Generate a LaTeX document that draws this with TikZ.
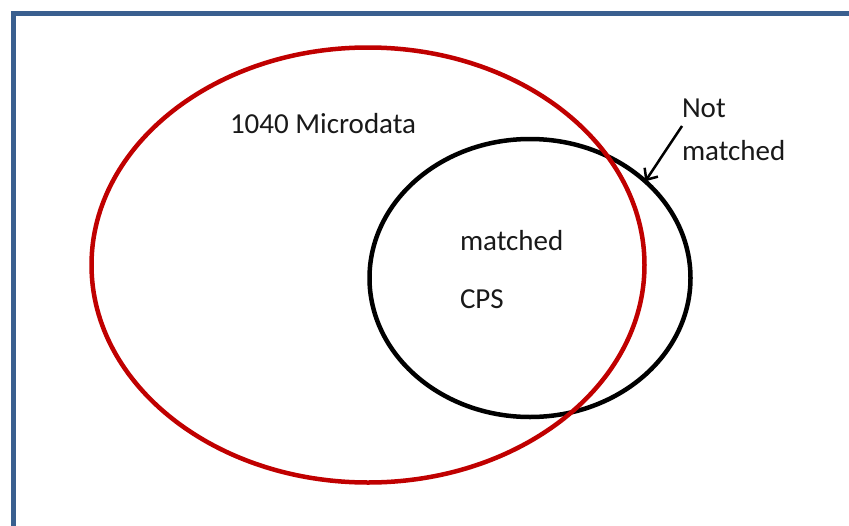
\documentclass[tikz,border=0pt]{standalone}
\usepackage{fontspec}
\setmainfont{Carlito}
\usetikzlibrary{shapes.geometric,arrows.meta}
\definecolor{framecol}{HTML}{3A5F8F}
\definecolor{redcol}{HTML}{C00000}
\tikzset{
  lbl/.style={anchor=base west, inner sep=0pt, outer sep=0pt, font=\fontsize{29}{43}\selectfont, text=black!90},
  ring/.style={ellipse, draw, line width=4.5pt, outer sep=0pt, inner sep=0pt},
}
\begin{document}
\begin{tikzpicture}[x=1pt,y=-1pt]
\useasboundingbox (0,0) rectangle (849,525);
\fill[white] (0,0) rectangle (849,525);
% frame
\draw[framecol, line width=5pt] (13,530) -- (13,13) -- (855,13);
% ellipses
\node[ring, black, minimum width=321pt, minimum height=278pt] (cps) at (530,278) {};
\node[ring, redcol, minimum width=553pt, minimum height=435pt] (micro) at (368,265) {};
% labels
\node[lbl] (microlbl) at (230,133) {1040 Microdata};
\node[lbl] (matchedin) at (460,250) {matched};
\node[lbl] (cpslbl) at (460,308) {CPS};
\node[lbl] (notlbl) at (682,117) {Not};
\node[lbl] (notmatched) at (682,160) {matched};
% arrow
\coordinate (arrstart) at (682,126);
\draw[line width=2.5pt, -{Straight Barb[length=9pt,width=16pt,line width=2.5pt]}] (arrstart) -- (cps.40);
\end{tikzpicture}
\end{document}
